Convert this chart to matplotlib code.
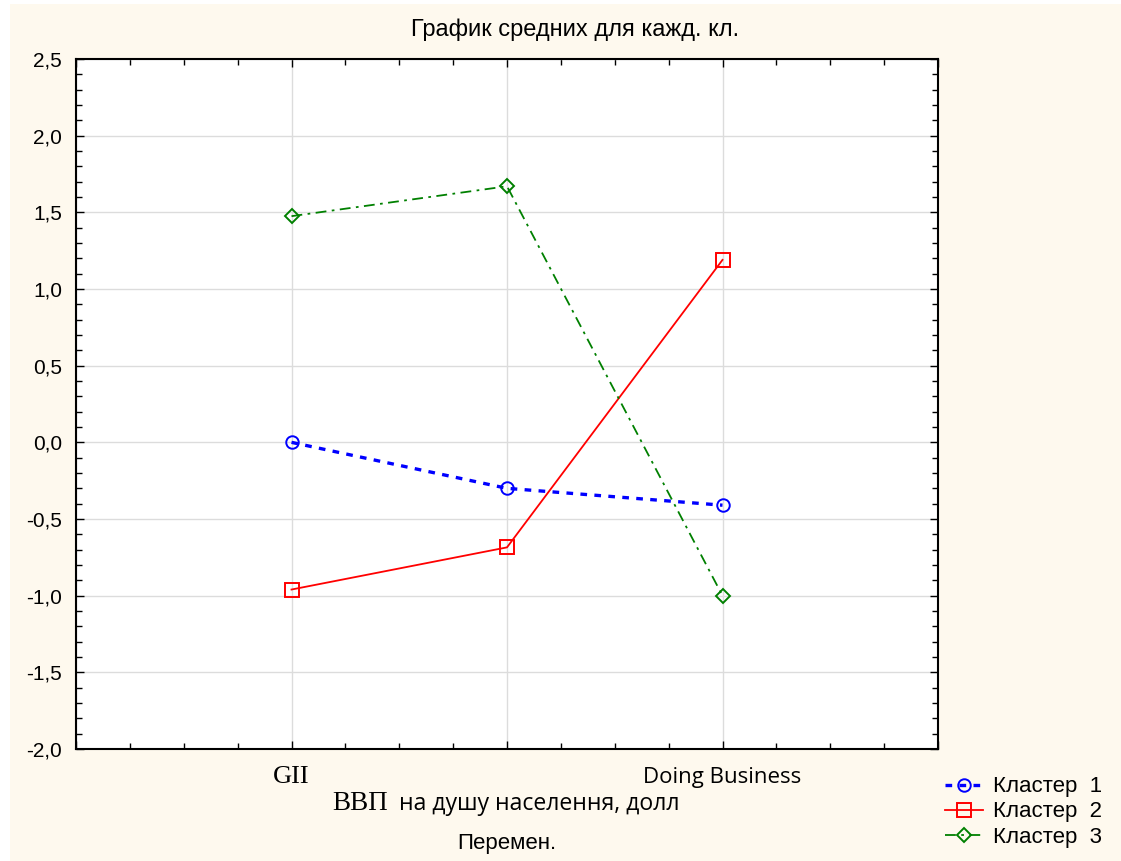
import matplotlib
matplotlib.use("Agg")
import matplotlib.pyplot as plt
from matplotlib.ticker import MultipleLocator, FuncFormatter
from matplotlib.patches import Rectangle
import matplotlib.transforms as mtransforms

categories = ["GII", "ВВП на душу населення, долл", "Doing Business"]
series_names = ["Кластер  1", "Кластер  2", "Кластер  3"]
cluster1 = [0.0, -0.30, -0.41]
cluster2 = [-0.96, -0.685, 1.19]
cluster3 = [1.475, 1.67, -1.0]
title = "График средних для кажд. кл."
xlabel = "Перемен."

W, H = 1121, 861
fig = plt.figure(figsize=(W / 100, H / 100), dpi=100)
fig.patch.set_facecolor("white")
bg = "#FEF9EE"
fig.patches.append(Rectangle((10 / W, 0), 1 - 10 / W, 1 - 4 / H, transform=fig.transFigure,
                             facecolor=bg, edgecolor="none", zorder=-10))

left, right, top, bottom = 76, 938, 59, 749
ax = fig.add_axes([left / W, 1 - bottom / H, (right - left) / W, (bottom - top) / H])
ax.set_facecolor("white")

xs = [1, 2, 3]
ax.plot(xs, cluster1, color="#0000FF", linestyle=(0, (2.0, 2.2)), linewidth=2.4,
        marker="o", markersize=9, markerfacecolor="none", markeredgecolor="#0000FF",
        markeredgewidth=1.4, label=series_names[0], zorder=3)
ax.plot(xs, cluster2, color="#FF0000", linestyle="-", linewidth=1.3,
        marker="s", markersize=10, markerfacecolor="none", markeredgecolor="#FF0000",
        markeredgewidth=1.4, label=series_names[1], zorder=3)
ax.plot(xs, cluster3, color="#008000", linestyle=(0, (6, 3, 1.5, 3)), linewidth=1.3,
        marker="D", markersize=7, markerfacecolor="none", markeredgecolor="#008000",
        markeredgewidth=1.4, label=series_names[2], zorder=3)

ax.set_xlim(0, 4)
ax.set_ylim(-2.0, 2.5)
ax.xaxis.set_major_locator(MultipleLocator(1))
ax.xaxis.set_minor_locator(MultipleLocator(0.25))
ax.yaxis.set_major_locator(MultipleLocator(0.5))
ax.yaxis.set_minor_locator(MultipleLocator(0.1))
ax.yaxis.set_major_formatter(FuncFormatter(lambda v, p: f"{v:.1f}".replace(".", ",").replace("-0,0", "0,0")))
ax.tick_params(axis="both", which="both", direction="in", top=True, right=True,
               color="black")
ax.tick_params(axis="both", which="major", length=6, width=1)
ax.tick_params(axis="both", which="minor", length=4, width=1)
ax.tick_params(axis="y", labelsize=15, pad=10)
ax.tick_params(axis="x", labelbottom=False)
for t in ax.get_yticklabels():
    t.set_fontfamily("Liberation Sans")

ax.grid(True, which="major", color="#DCDCDC", linewidth=1)
ax.set_axisbelow(True)
for s in ax.spines.values():
    s.set_linewidth(1.5)
    s.set_color("black")

trans = mtransforms.blended_transform_factory(ax.transData, fig.transFigure)
ax.text(xs[0], 1 - 777 / H, categories[0], transform=trans, ha="center", va="center",
        fontsize=19, family="Liberation Serif")
ax.text(xs[2], 1 - 777 / H, categories[2], transform=trans, ha="center", va="center",
        fontsize=16, family="Open Sans")
first, rest = categories[1].split(" ", 1)
ax.text(332 / W, 1 - 803 / H, first, transform=fig.transFigure, ha="left", va="center",
        fontsize=19.5, family="Liberation Serif")
ax.text(399 / W, 1 - 804 / H, rest, transform=fig.transFigure, ha="left", va="center",
        fontsize=16.6, family="Open Sans")

fig.text(575 / W, 1 - 30 / H, title, ha="center", va="center", fontsize=17,
         family="Liberation Sans")
fig.text(507 / W, 1 - 844 / H, xlabel, ha="center", va="center", fontsize=16,
         family="Liberation Sans")

leg = fig.legend(loc="center left", bbox_to_anchor=(945 / W, 1 - 812 / H), frameon=False,
                 prop={"family": "Liberation Sans", "size": 16}, handlelength=1.7,
                 handletextpad=0.45, labelspacing=0.19, borderaxespad=0, borderpad=0)

fig.savefig("out.png", dpi=100, facecolor=fig.get_facecolor())
